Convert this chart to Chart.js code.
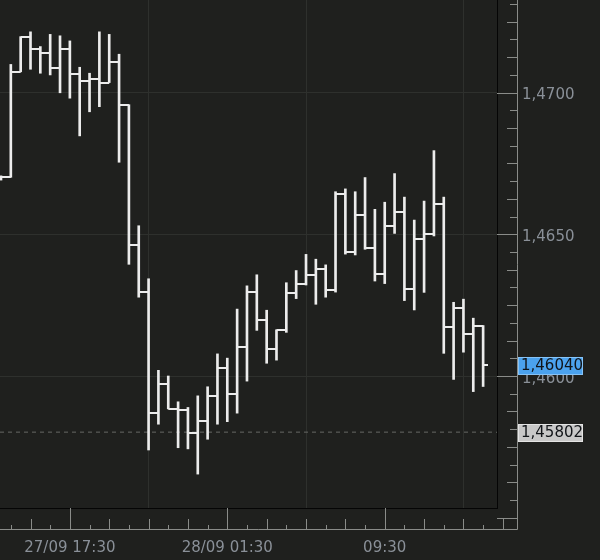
<!DOCTYPE html>
<html>
<head>
<meta charset="utf-8">
<script src="https://cdn.jsdelivr.net/npm/chart.js@4.4.1/dist/chart.umd.min.js"></script>
<style>
  html, body { margin: 0; padding: 0; background: #1f201e; }
  canvas { display: block; }
</style>
</head>
<body>
<canvas id="chart" width="600" height="560"></canvas>
<script>
// 30 minute bars, 27/09 14:00 -> 28/09 14:30
const times = [
  '27/09 14:00', '27/09 14:30', '27/09 15:00', '27/09 15:30', '27/09 16:00', '27/09 16:30',
  '27/09 17:00', '27/09 17:30', '27/09 18:00', '27/09 18:30', '27/09 19:00', '27/09 19:30',
  '27/09 20:00', '27/09 20:30', '27/09 21:00', '27/09 21:30', '27/09 22:00', '27/09 22:30',
  '27/09 23:00', '27/09 23:30', '28/09 00:00', '28/09 00:30', '28/09 01:00', '28/09 01:30',
  '28/09 02:00', '28/09 02:30', '28/09 03:00', '28/09 03:30', '28/09 04:00', '28/09 04:30',
  '28/09 05:00', '28/09 05:30', '28/09 06:00', '28/09 06:30', '28/09 07:00', '28/09 07:30',
  '28/09 08:00', '28/09 08:30', '28/09 09:00', '28/09 09:30', '28/09 10:00', '28/09 10:30',
  '28/09 11:00', '28/09 11:30', '28/09 12:00', '28/09 12:30', '28/09 13:00', '28/09 13:30',
  '28/09 14:00', '28/09 14:30'
]

const openPrices = [
  1.46698, 1.46701, 1.47073, 1.47197, 1.47152, 1.47140, 1.47087, 1.47154, 1.47065, 1.47041,
  1.47049, 1.47035, 1.47109, 1.46957, 1.46461, 1.46297, 1.45870, 1.45971, 1.45885, 1.45879,
  1.45798, 1.45841, 1.45931, 1.46029, 1.45937, 1.46101, 1.46297, 1.46198, 1.46096, 1.46163,
  1.46294, 1.46326, 1.46356, 1.46376, 1.46303, 1.46641, 1.46437, 1.46568, 1.46452, 1.46361,
  1.46529, 1.46579, 1.46307, 1.46482, 1.46500, 1.46608, 1.46173, 1.46240, 1.46149, 1.46178
]
const highPrices = [
  1.46706, 1.47099, 1.47197, 1.47214, 1.47162, 1.47205, 1.47200, 1.47182, 1.47089, 1.47068,
  1.47214, 1.47205, 1.47135, 1.46957, 1.46530, 1.46343, 1.46020, 1.46000, 1.45909, 1.45889,
  1.45930, 1.45962, 1.46078, 1.46063, 1.46236, 1.46318, 1.46357, 1.46232, 1.46163, 1.46329,
  1.46372, 1.46429, 1.46412, 1.46392, 1.46650, 1.46660, 1.46650, 1.46700, 1.46588, 1.46613,
  1.46714, 1.46631, 1.46550, 1.46617, 1.46795, 1.46631, 1.46260, 1.46271, 1.46204, 1.46178
]
const lowPrices = [
  1.46691, 1.46701, 1.47073, 1.47082, 1.47068, 1.47062, 1.46999, 1.46980, 1.46847, 1.46932,
  1.46950, 1.47035, 1.46754, 1.46394, 1.46278, 1.45739, 1.45830, 1.45884, 1.45747, 1.45743,
  1.45654, 1.45777, 1.45830, 1.45839, 1.45869, 1.45982, 1.46161, 1.46045, 1.46056, 1.46154,
  1.46273, 1.46321, 1.46253, 1.46278, 1.46296, 1.46430, 1.46427, 1.46447, 1.46335, 1.46326,
  1.46503, 1.46266, 1.46233, 1.46295, 1.46494, 1.46080, 1.45988, 1.46084, 1.45945, 1.45963
]
const closePrices = [
  1.46701, 1.47073, 1.47197, 1.47152, 1.47140, 1.47087, 1.47154, 1.47065, 1.47041, 1.47049,
  1.47035, 1.47109, 1.46957, 1.46461, 1.46297, 1.45870, 1.45971, 1.45885, 1.45879, 1.45798,
  1.45841, 1.45931, 1.46029, 1.45937, 1.46101, 1.46297, 1.46198, 1.46096, 1.46163, 1.46294,
  1.46326, 1.46356, 1.46376, 1.46303, 1.46641, 1.46437, 1.46568, 1.46452, 1.46361, 1.46529,
  1.46579, 1.46307, 1.46482, 1.46500, 1.46608, 1.46173, 1.46240, 1.46149, 1.46178, 1.46040
]

// axis labels
const xTickIndex = [7, 23, 39]
const xTickLabels = ['27/09 17:30', '28/09 01:30', '09:30']
const yTickValues = [1.4600, 1.4650, 1.4700]
const Y_MINOR_STEP = 0.000625

// price markers on the right axis
const lastPrice = 1.46040
const refPrice = 1.45802

// visible window
const X_MIN = -0.1
const X_MAX = 50.41
const Y_MIN = 1.455344
const Y_MAX = 1.473263

const BAR_COLOR = '#ececec'
const GRID_COLOR = '#2e302d'
const AXIS_COLOR = '#8a8c89'
const LABEL_COLOR = '#8a9098'
const FONT = { family: '"DejaVu Sans", Verdana, sans-serif', size: 15 }

function formatPrice(v, digits) {
  return v.toFixed(digits).replace('.', ',')
}

// fixed axis box sizes, no extra label padding around the plot
function fixBox(size) {
  return s => {
    if (s.isHorizontal()) s.height = size
    else s.width = size
    s.paddingLeft = s.paddingRight = s.paddingTop = s.paddingBottom = 0
  }
}

// small canvases used as point styles for the open (left) and close (right) ticks
function makeTick(side) {
  const c = document.createElement('canvas')
  c.width = 10
  c.height = 2
  const g = c.getContext('2d')
  g.fillStyle = BAR_COLOR
  g.fillRect(side === 'left' ? 0 : 5, 0, 5, 2)
  return c
}
const openTick = makeTick('left')
const closeTick = makeTick('right')

// draws axis lines, tick marks and the price tags outside the plot area
const axisFrame = {
  id: 'axisFrame',
  afterDraw(chart) {
    const { ctx, chartArea: a, scales: { x, y } } = chart
    const axisX = a.right + 20
    const axisY = a.bottom + 21

    ctx.save()
    ctx.strokeStyle = AXIS_COLOR
    ctx.lineWidth = 1
    ctx.beginPath()
    ctx.moveTo(axisX + 0.5, 0)
    ctx.lineTo(axisX + 0.5, axisY + 0.5)
    ctx.lineTo(0, axisY + 0.5)

    const vLow = y.getValueForPixel(axisY)
    const vHigh = y.getValueForPixel(0)
    for (let n = Math.ceil(vLow / Y_MINOR_STEP); n <= Math.floor(vHigh / Y_MINOR_STEP); n++) {
      const py = Math.round(y.getPixelForValue(n * Y_MINOR_STEP)) + 0.5
      const len = n % 8 === 0 ? 20 : (n % 2 === 0 ? 10 : 7)
      ctx.moveTo(axisX, py)
      ctx.lineTo(axisX - len, py)
    }

    const iLow = Math.ceil(x.getValueForPixel(0))
    const iHigh = Math.floor(x.getValueForPixel(axisX))
    for (let i = iLow; i <= iHigh; i++) {
      if (i % 2 === 0) continue
      const px = Math.round(x.getPixelForValue(i)) + 0.5
      const len = i % 16 === 7 ? 21 : (i % 4 === 3 ? 10 : 4)
      ctx.moveTo(px, axisY)
      ctx.lineTo(px, axisY - len)
    }
    ctx.stroke()

    const tag = (price, fill, stroke) => {
      const py = y.getPixelForValue(price)
      const top = Math.round(py - 8)
      ctx.fillStyle = fill
      ctx.fillRect(axisX + 1, top, 65, 18)
      ctx.strokeStyle = stroke
      ctx.strokeRect(axisX + 1.5, top + 0.5, 64, 17)
      ctx.fillStyle = '#111418'
      ctx.font = `${FONT.size}px ${FONT.family}`
      ctx.textBaseline = 'middle'
      ctx.textAlign = 'left'
      ctx.fillText(formatPrice(price, 5), axisX + 4, top + 9.5)
    }
    tag(lastPrice, '#4ba2ee', '#86c3f7')
    tag(refPrice, '#c8c8c8', '#e4e4e4')
    ctx.restore()
  }
}

const ranges = times.map((t, i) => ({ x: i, y: [lowPrices[i], highPrices[i]] }))
const opens = times.map((t, i) => ({ x: i, y: openPrices[i] }))
const closes = times.map((t, i) => ({ x: i, y: closePrices[i] }))

new Chart(document.getElementById('chart').getContext('2d'), {
  type: 'bar',
  data: {
    datasets: [
      {
        type: 'line',
        data: [{ x: X_MIN, y: refPrice }, { x: X_MAX, y: refPrice }],
        borderColor: '#666865',
        borderWidth: 1,
        borderDash: [4, 4],
        pointRadius: 0,
        order: 5
      },
      {
        type: 'bar',
        data: ranges,
        backgroundColor: BAR_COLOR,
        barThickness: 2,
        order: 2
      },
      {
        type: 'scatter',
        data: opens,
        pointStyle: openTick,
        pointRadius: 3,
        order: 1
      },
      {
        type: 'scatter',
        data: closes,
        pointStyle: closeTick,
        pointRadius: 3,
        order: 1
      }
    ]
  },
  options: {
    responsive: false,
    animation: false,
    events: [],
    layout: { padding: 0, autoPadding: false },
    plugins: {
      legend: { display: false },
      tooltip: { enabled: false }
    },
    scales: {
      x: {
        type: 'linear',
        min: X_MIN,
        max: X_MAX,
        offset: false,
        afterFit: fixBox(52),
        afterBuildTicks: s => { s.ticks = xTickIndex.map(v => ({ value: v })) },
        grid: { color: GRID_COLOR, drawTicks: false },
        border: { display: true, color: '#050505', width: 1 },
        ticks: {
          callback: (v, i) => xTickLabels[i],
          color: LABEL_COLOR,
          font: FONT,
          padding: 31,
          autoSkip: false,
          maxRotation: 0
        }
      },
      y: {
        position: 'right',
        min: Y_MIN,
        max: Y_MAX,
        afterFit: fixBox(103),
        afterBuildTicks: s => { s.ticks = yTickValues.map(v => ({ value: v })) },
        grid: { color: GRID_COLOR, drawTicks: false },
        border: { display: true, color: '#050505', width: 1 },
        ticks: {
          callback: v => formatPrice(v, 4),
          color: LABEL_COLOR,
          font: FONT,
          padding: 25,
          labelOffset: 3
        }
      }
    }
  },
  plugins: [axisFrame]
})
</script>
</body>
</html>
